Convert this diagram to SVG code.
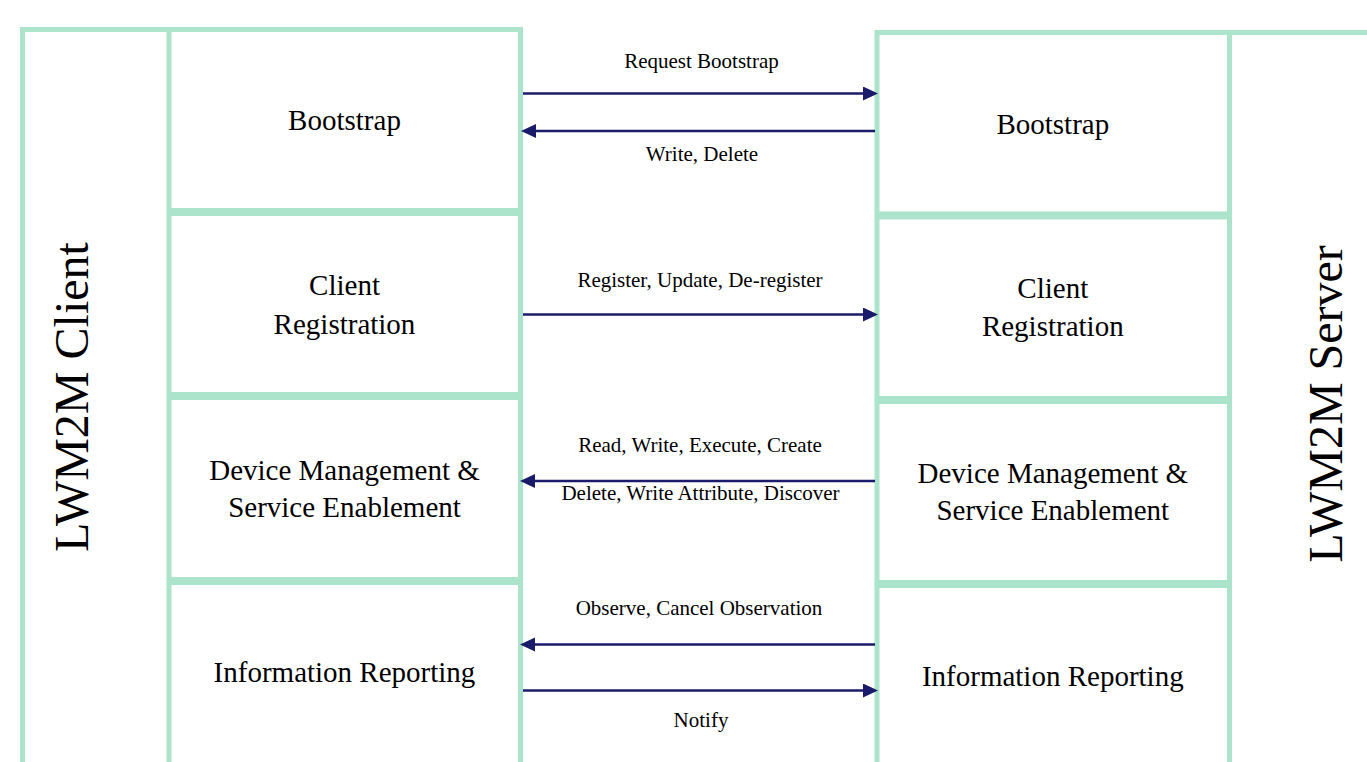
<svg xmlns="http://www.w3.org/2000/svg" width="1367" height="762" viewBox="0 0 1367 762">
  <defs>
    <style>
      .frame { fill: none; stroke: #ABE3CB; stroke-width: 5; }
      .div { fill: none; stroke: #ABE3CB; stroke-width: 8; }
      .conn { fill: none; stroke: #1B1B6B; stroke-width: 2.5; }
      .lbl { font-family: "Liberation Serif", "Times New Roman", serif; font-size: 29px; fill: #000; text-anchor: middle; }
      .small { font-family: "Liberation Serif", "Times New Roman", serif; font-size: 21px; fill: #000; text-anchor: middle; }
      .big { font-family: "Liberation Serif", "Times New Roman", serif; font-size: 48px; fill: #000; text-anchor: middle; }
    </style>
    <marker id="arrow" markerUnits="userSpaceOnUse" markerWidth="16" markerHeight="16" refX="7" refY="7" orient="auto">
      <path d="M0,0 L15,7 L0,14 z" fill="#1B1B6B"/>
    </marker>
  </defs>
  <rect width="1367" height="762" fill="#ffffff"/>

  <g id="client">
    <path class="frame" d="M22.5,775 V29.5 H520.5 V775 M169,29.5 V775"/>
    <text class="big" transform="translate(88,397) rotate(-90)">LWM2M Client</text>
  </g>
  <g id="client-bootstrap">
    <text class="lbl" x="344.5" y="129.5">Bootstrap</text>
  </g>
  <g id="client-registration">
    <line class="div" x1="169" y1="212" x2="520.5" y2="212"/>
    <text class="lbl" x="344.5" y="295">Client</text>
    <text class="lbl" x="344.5" y="333.5">Registration</text>
  </g>
  <g id="client-dm">
    <line class="div" x1="169" y1="396" x2="520.5" y2="396"/>
    <text class="lbl" x="344.5" y="479.5">Device Management &amp;</text>
    <text class="lbl" x="344.5" y="517">Service Enablement</text>
  </g>
  <g id="client-info">
    <line class="div" x1="169" y1="581" x2="520.5" y2="581"/>
    <text class="lbl" x="344.5" y="682">Information Reporting</text>
  </g>

  <g id="server">
    <path class="frame" d="M877,775 V32.5 H1370 M1229.5,32.5 V775"/>
    <text class="big" transform="translate(1342,404) rotate(-90)">LWM2M Server</text>
  </g>
  <g id="server-bootstrap">
    <text class="lbl" x="1052.8" y="133.5">Bootstrap</text>
  </g>
  <g id="server-registration">
    <line class="div" x1="877" y1="215.5" x2="1229.5" y2="215.5"/>
    <text class="lbl" x="1052.8" y="297.5">Client</text>
    <text class="lbl" x="1052.8" y="336">Registration</text>
  </g>
  <g id="server-dm">
    <line class="div" x1="877" y1="400" x2="1229.5" y2="400"/>
    <text class="lbl" x="1052.8" y="482.5">Device Management &amp;</text>
    <text class="lbl" x="1052.8" y="519.5">Service Enablement</text>
  </g>
  <g id="server-info">
    <line class="div" x1="877" y1="584" x2="1229.5" y2="584"/>
    <text class="lbl" x="1052.8" y="686">Information Reporting</text>
  </g>

  <g id="connectors">
    <line class="conn" x1="523" y1="93.5" x2="870" y2="93.5" marker-end="url(#arrow)"/>
    <line class="conn" x1="875" y1="131" x2="529" y2="131" marker-end="url(#arrow)"/>
    <line class="conn" x1="523" y1="314.5" x2="870" y2="314.5" marker-end="url(#arrow)"/>
    <line class="conn" x1="875" y1="481" x2="528" y2="481" marker-end="url(#arrow)"/>
    <line class="conn" x1="875" y1="644.5" x2="528" y2="644.5" marker-end="url(#arrow)"/>
    <line class="conn" x1="523" y1="690.5" x2="870" y2="690.5" marker-end="url(#arrow)"/>
    <text class="small" x="701.5" y="68">Request Bootstrap</text>
    <text class="small" x="702" y="161">Write, Delete</text>
    <text class="small" x="700" y="287">Register, Update, De-register</text>
    <text class="small" x="700" y="452">Read, Write, Execute, Create</text>
    <text class="small" x="700.5" y="499.5">Delete, Write Attribute, Discover</text>
    <text class="small" x="699" y="615">Observe, Cancel Observation</text>
    <text class="small" x="701" y="727">Notify</text>
  </g>
</svg>
